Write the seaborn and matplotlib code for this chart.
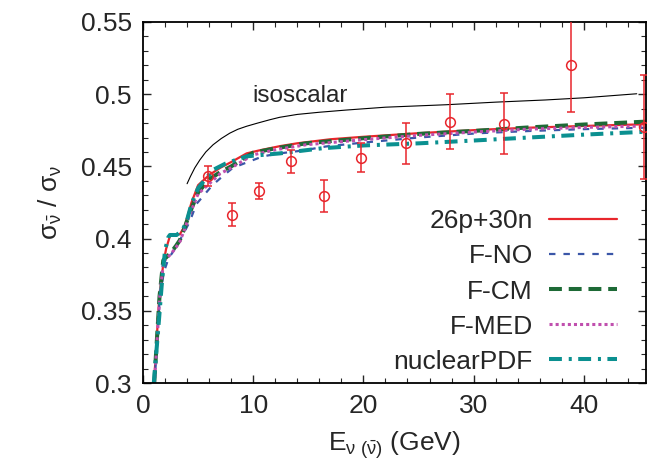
import numpy as np
import pandas as pd
import seaborn as sns
import matplotlib
matplotlib.use("Agg")
import matplotlib.pyplot as plt
from matplotlib.ticker import MultipleLocator

# ---------------- data ----------------
exp_E = [5.9, 8.05, 10.5, 13.4, 16.4, 19.8, 23.9, 27.9, 32.8, 38.8, 45.5]
exp_R = [0.4435, 0.4165, 0.433, 0.4535, 0.4295, 0.456, 0.466, 0.481, 0.4795, 0.520, 0.477]
exp_err = [0.0068, 0.008, 0.0055, 0.008, 0.011, 0.010, 0.014, 0.019, 0.021, 0.032, 0.036]

iso_E = [4.0, 4.3, 4.7, 5.16, 5.7, 6.36, 7.1, 7.87, 8.6, 9.4, 10.4, 11.5, 12.4, 14.0, 16.0, 18.4, 22.0, 27.5, 32.0, 36.5, 40.0, 44.8]
iso_R = [0.438, 0.443, 0.449, 0.4545, 0.4600, 0.465, 0.4693, 0.473, 0.4757, 0.4778, 0.4800, 0.4823, 0.4840, 0.4860, 0.4875, 0.489, 0.491, 0.4927, 0.4945, 0.496, 0.4975, 0.5003]

p26n30_E = [1.0, 1.24, 1.48, 1.85, 2.1, 2.45, 2.9, 3.35, 3.8, 4.4, 5.0, 6.0, 7.0, 8.0, 9.4, 10.5, 12.4, 14.0, 17.0, 20.0, 25.0, 30.5, 35.0, 40.0, 45.6]
p26n30_R = [0.300, 0.330, 0.360, 0.383, 0.393, 0.402, 0.403, 0.403, 0.409, 0.425, 0.437, 0.444, 0.449, 0.453, 0.459, 0.461, 0.464, 0.466, 0.4688, 0.4705, 0.4730, 0.4753, 0.4768, 0.4780, 0.4792]

fno_E = [1.05, 1.29, 1.53, 1.9, 2.3, 2.9, 3.65, 4.25, 4.85, 5.3, 6.3, 7.2, 8.15, 9.5, 10.9, 12.4, 14.5, 16.6, 20.0, 25.0, 30.5, 35.0, 40.0, 45.6]
fno_R = [0.300, 0.330, 0.360, 0.377, 0.386, 0.393, 0.403, 0.412, 0.424, 0.428, 0.437, 0.443, 0.449, 0.453, 0.457, 0.459, 0.461, 0.4638, 0.4665, 0.4700, 0.4730, 0.4745, 0.4758, 0.4768]

fcm_E = [1.02, 1.26, 1.5, 1.84, 2.3, 2.6, 3.0, 3.35, 3.8, 4.25, 5.0, 6.0, 7.0, 8.0, 10.0, 12.0, 14.8, 20.0, 25.0, 30.5, 35.0, 40.0, 45.6]
fcm_R = [0.300, 0.330, 0.360, 0.385, 0.3885, 0.391, 0.395, 0.399, 0.408, 0.418, 0.432, 0.441, 0.446, 0.450, 0.4595, 0.4625, 0.4660, 0.4695, 0.4725, 0.4748, 0.4770, 0.4790, 0.4810]

fmed_E = [1.04, 1.28, 1.52, 1.86, 2.3, 2.6, 3.0, 3.35, 3.8, 4.25, 5.0, 6.3, 7.0, 8.0, 10.0, 12.0, 14.8, 20.0, 25.0, 30.5, 35.0, 40.0, 45.6]
fmed_R = [0.300, 0.330, 0.360, 0.384, 0.3875, 0.390, 0.394, 0.398, 0.407, 0.417, 0.431, 0.440, 0.445, 0.449, 0.458, 0.4615, 0.4650, 0.4685, 0.4715, 0.4740, 0.4758, 0.4770, 0.4780]

npdf_E = [0.98, 1.4, 1.69, 2.0, 2.3, 2.44, 3.05, 3.6, 4.0, 4.4, 5.0, 6.36, 7.5, 9.4, 12.4, 16.3, 20.0, 25.1, 30.2, 35.0, 40.0, 45.6]
npdf_R = [0.300, 0.339, 0.367, 0.392, 0.401, 0.4025, 0.4025, 0.406, 0.413, 0.424, 0.435, 0.4476, 0.452, 0.457, 0.459, 0.4626, 0.4645, 0.466, 0.4680, 0.4700, 0.4720, 0.4740]

# ---------------- style ----------------
sns.set_theme(style="ticks")
plt.rcParams["font.family"] = ["Liberation Sans", "DejaVu Sans"]
plt.rcParams["mathtext.fontset"] = "custom"
plt.rcParams["mathtext.rm"] = "Liberation Sans"
plt.rcParams["mathtext.it"] = "Liberation Sans"
plt.rcParams["mathtext.bf"] = "Liberation Sans:bold"

fig = plt.figure(figsize=(6.5, 4.68), dpi=100)
ax = fig.add_axes([0.22, 0.1816, 0.774, 0.7714])

FS = 19

def curve(E, R, label, color, lw, ls):
    df = pd.DataFrame({"E": E, "R": R})
    sns.lineplot(data=df, x="E", y="R", ax=ax, color=color, lw=lw,
                 linestyle=ls, label=label, sort=False, estimator=None)

sns.lineplot(data=pd.DataFrame({"E": iso_E, "R": iso_R}), x="E", y="R", ax=ax,
             color="black", lw=0.8, sort=False, estimator=None, legend=False)

curve(p26n30_E, p26n30_R, "26p+30n", "#e8262c", 1.6, "-")
curve(fno_E, fno_R, "F-NO", "#3a56a8", 1.6, (0, (2.9, 3.6)))
curve(fcm_E, fcm_R, "F-CM", "#1d6a36", 2.9, (0, (3.2, 1.7)))
curve(fmed_E, fmed_R, "F-MED", "#c04fae", 2.2, (0, (1.0, 1.0)))
curve(npdf_E, npdf_R, "nuclearPDF", "#0b9090", 2.9, (0, (3.2, 1.7, 0.75, 1.6)))

ax.errorbar(exp_E, exp_R, yerr=exp_err, fmt="o", mfc="none", mec="#e8262c",
            ecolor="#e8262c", ms=7, mew=1.1, elinewidth=1.1, capsize=3,
            capthick=1.1, clip_on=True, zorder=3)

ax.text(9.9, 0.4990, "isoscalar", fontsize=17.5, va="center", ha="left")

ax.set_xlim(0, 45.65)
ax.set_ylim(0.3, 0.55)
ax.xaxis.set_major_locator(MultipleLocator(10))
ax.xaxis.set_minor_locator(MultipleLocator(2))
ax.yaxis.set_major_locator(MultipleLocator(0.05))
ax.yaxis.set_minor_locator(MultipleLocator(0.01))
ax.set_yticks([0.3, 0.35, 0.4, 0.45, 0.5, 0.55])
ax.set_yticklabels(["0.3", "0.35", "0.4", "0.45", "0.5", "0.55"])
ax.tick_params(which="both", direction="in", top=True, right=True, labelsize=FS, pad=8)
ax.tick_params(which="major", length=6, width=1.0)
ax.tick_params(which="minor", length=3.5, width=0.8)
for s in ax.spines.values():
    s.set_linewidth(1.3)
    s.set_color("black")

ax.set_xlabel(r"E$_{\nu\ (\bar{\nu})}$ (GeV)", fontsize=FS, labelpad=8)
ax.set_ylabel(r"$\sigma_{\bar{\nu}}$ / $\sigma_{\nu}$", fontsize=FS, labelpad=12)

leg = ax.legend(loc="lower right", bbox_to_anchor=(0.99, -0.04), frameon=False,
                markerfirst=False, fontsize=FS, handlelength=2.6,
                labelspacing=0.42, handletextpad=0.6, borderpad=0.4)

fig.savefig("out.png", dpi=100)
